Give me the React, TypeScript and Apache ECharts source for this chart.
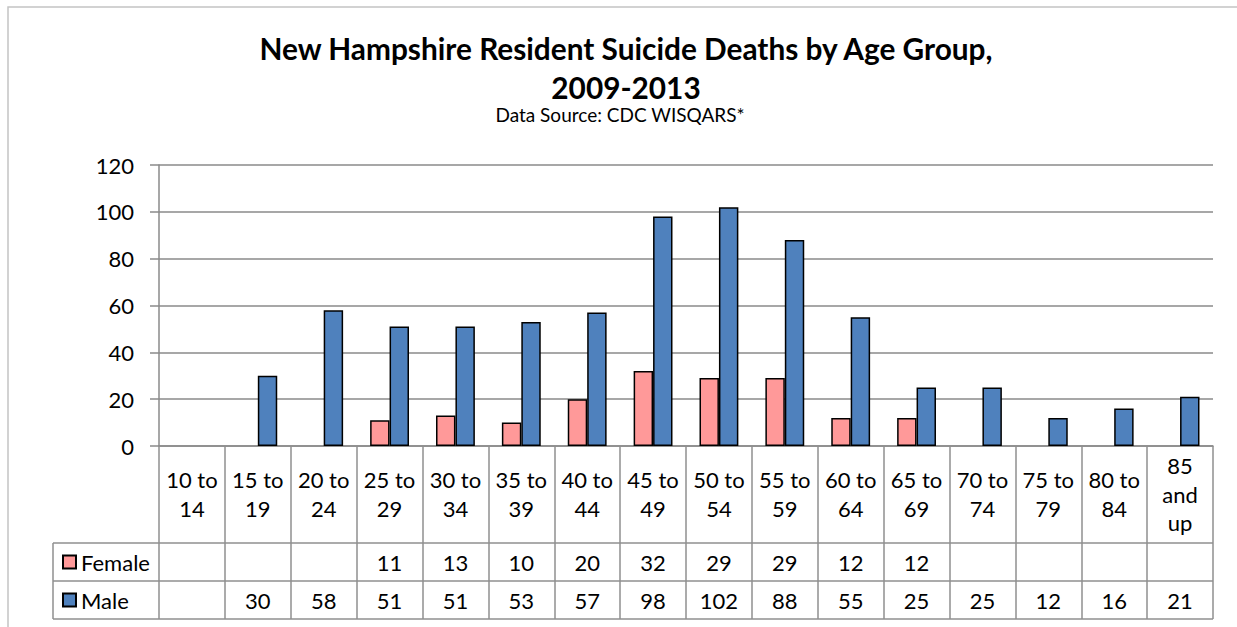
import React, { useEffect, useRef } from "react";
import * as echarts from "echarts";

const categories = [
  "10 to\n14", "15 to\n19", "20 to\n24", "25 to\n29", "30 to\n34", "35 to\n39",
  "40 to\n44", "45 to\n49", "50 to\n54", "55 to\n59", "60 to\n64", "65 to\n69",
  "70 to\n74", "75 to\n79", "80 to\n84", "85\nand\nup",
];
const female: (number | null)[] = [null, null, null, 11, 13, 10, 20, 32, 29, 29, 12, 12, null, null, null, null];
const male: (number | null)[] = [null, 30, 58, 51, 51, 53, 57, 98, 102, 88, 55, 25, 25, 12, 16, 21];
const seriesNames = ["Female", "Male"];
const yTicks = { min: 0, max: 120, interval: 20 };

const FONT = "Lato, 'Open Sans', sans-serif";
const GRID_GREY = "#8a8a8a";
const TABLE_GREY = "#8f8f8f";

export default function App() {
  const ref = useRef<HTMLDivElement>(null);
  useEffect(() => {
    if (!ref.current) return;
    const chart = echarts.init(ref.current, undefined, { renderer: "svg" });
    const gridLeft = 159;
    const gridRight = 1213;
    const gridTop = 165;
    const gridBottom = 446;
    const tableRow1 = 543;
    const tableRow2 = 581;
    const tableBottom = 619;
    const legendLeft = 53;
    const valueLabel = (arr: (number | null)[]) => (_v: string, i: number) =>
      arr[i] == null ? "" : String(arr[i]);
    const hline = (y: number) => ({
      type: "line",
      shape: { x1: legendLeft, y1: y, x2: gridRight, y2: y },
      style: { stroke: TABLE_GREY, lineWidth: 1.5 },
      silent: true,
    });
    chart.setOption({
      animation: false,
      backgroundColor: "#fff",
      title: [
        {
          text: "New Hampshire Resident Suicide Deaths by Age Group,\n2009-2013",
          left: 626,
          textAlign: "center",
          top: 29,
          padding: 0,
          textStyle: { fontFamily: FONT, fontSize: 29.8, fontWeight: "bold", color: "#000", lineHeight: 39 },
        },
        {
          text: "Data Source: CDC WISQARS*",
          left: 620,
          textAlign: "center",
          top: 104,
          padding: 0,
          textStyle: { fontFamily: FONT, fontSize: 19, fontWeight: "normal", color: "#000", lineHeight: 20 },
        },
      ],
      legend: {
        data: seriesNames,
        orient: "vertical",
        left: 57,
        top: 546,
        itemWidth: 13,
        itemHeight: 13,
        itemGap: 16,
        icon: "rect",
        textStyle: { fontFamily: FONT, fontSize: 22, color: "#000", lineHeight: 22 },
      },
      grid: {
        left: gridLeft,
        top: gridTop,
        width: gridRight - gridLeft,
        height: gridBottom - gridTop,
        containLabel: false,
        outerBoundsMode: "none",
      },
      xAxis: [
        {
          type: "category",
          data: categories,
          axisLine: { show: true, lineStyle: { color: GRID_GREY, width: 1.5 } },
          axisTick: { show: true, interval: 0, length: tableBottom - gridBottom, lineStyle: { color: TABLE_GREY, width: 1.5 } },
          axisLabel: {
            interval: 0,
            margin: 48,
            verticalAlign: "middle",
            lineHeight: 28.5,
            fontSize: 22,
            fontFamily: FONT,
            color: "#000",
          },
        },
        {
          type: "category",
          data: categories,
          position: "bottom",
          offset: 562 - gridBottom,
          axisLine: { show: false },
          axisTick: { show: false },
          axisLabel: {
            interval: 0,
            margin: 0,
            verticalAlign: "middle",
            fontSize: 22,
            fontFamily: FONT,
            color: "#000",
            formatter: valueLabel(female),
          },
        },
        {
          type: "category",
          data: categories,
          position: "bottom",
          offset: 600 - gridBottom,
          axisLine: { show: false },
          axisTick: { show: false },
          axisLabel: {
            interval: 0,
            margin: 0,
            verticalAlign: "middle",
            fontSize: 22,
            fontFamily: FONT,
            color: "#000",
            formatter: valueLabel(male),
          },
        },
      ],
      yAxis: {
        type: "value",
        min: yTicks.min,
        max: yTicks.max,
        interval: yTicks.interval,
        axisLine: { show: true, lineStyle: { color: GRID_GREY, width: 1.5 } },
        axisTick: { show: true, length: 9, lineStyle: { color: GRID_GREY, width: 1.5 } },
        splitLine: { show: true, lineStyle: { color: GRID_GREY, width: 1.5 } },
        axisLabel: { fontSize: 22, fontFamily: FONT, color: "#000", margin: 25 },
      },
      series: [
        {
          name: seriesNames[0],
          type: "bar",
          data: female,
          barGap: "0%",
          barCategoryGap: "41%",
          itemStyle: { color: "#FF9999", borderColor: "#000", borderWidth: 1.5 },
        },
        {
          name: seriesNames[1],
          type: "bar",
          data: male,
          barGap: "0%",
          barCategoryGap: "41%",
          itemStyle: { color: "#4F81BD", borderColor: "#000", borderWidth: 1.5 },
        },
      ],
      graphic: [
        {
          type: "rect",
          shape: { x: 8, y: 7, width: 1300, height: 700 },
          style: { fill: "none", stroke: "#c4c4c4", lineWidth: 1.5 },
          silent: true,
          z: -1,
        },
        hline(tableRow1),
        hline(tableRow2),
        hline(tableBottom),
        {
          type: "line",
          shape: { x1: legendLeft, y1: tableRow1, x2: legendLeft, y2: tableBottom },
          style: { stroke: TABLE_GREY, lineWidth: 1.5 },
          silent: true,
        },
      ],
    });
    return () => chart.dispose();
  }, []);
  return (
    <div
      ref={ref}
      style={{ position: "absolute", left: 0, top: 0, width: 1237, height: 627 }}
    />
  );
}
